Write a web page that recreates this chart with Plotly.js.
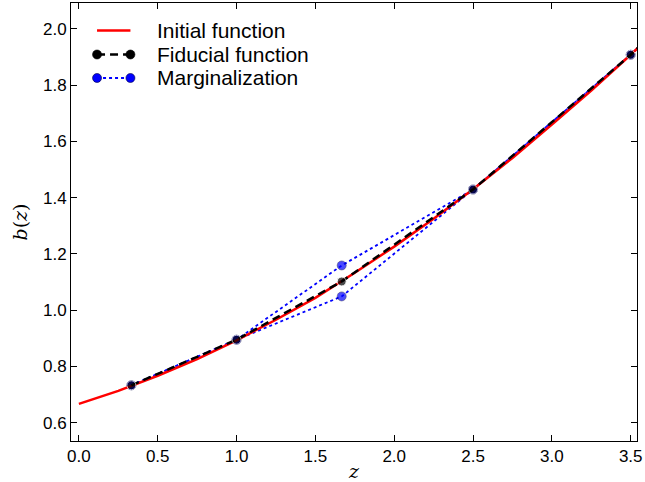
<!DOCTYPE html>
<html>
<head>
<meta charset="utf-8">
<script src="https://cdn.plot.ly/plotly-3.0.1.min.js"></script>
<style>html,body{margin:0;padding:0;background:#fff}#chart{width:645px;height:482px}</style>
</head>
<body>
<div id="chart"></div>
<script>
// Initial function (red curve)
const zInitial = [0, 0.25, 0.5, 0.75, 1.0, 1.25, 1.5, 1.75, 2.0, 2.25, 2.5, 2.75, 3.0, 3.25, 3.5, 3.55];
const bInitial = [0.667, 0.713, 0.767, 0.826, 0.893, 0.966, 1.044, 1.133, 1.226, 1.325, 1.430, 1.541, 1.660, 1.781, 1.908, 1.935];

// Fiducial nodes
const zNodes = [0.333, 1.0, 1.667, 2.5, 3.5, 3.55];
const bFiducial = [0.733, 0.895, 1.102, 1.429, 1.908, 1.935];
const nodeMarkerSize = [9, 9, 9, 9, 9, 0];

// Marginalization: middle node shifted up and down
const bMargUp = [0.733, 0.895, 1.159, 1.429, 1.908, 1.935];
const bMargDown = [0.733, 0.895, 1.049, 1.429, 1.908, 1.935];

const seriesNames = ['Initial function', 'Fiducial function', 'Marginalization'];

const xTickVals = [0, 0.5, 1.0, 1.5, 2.0, 2.5, 3.0, 3.5];
const xTickText = ['0.0', '0.5', '1.0', '1.5', '2.0', '2.5', '3.0', '3.5'];
const yTickVals = [0.6, 0.8, 1.0, 1.2, 1.4, 1.6, 1.8, 2.0];
const yTickText = ['0.6', '0.8', '1.0', '1.2', '1.4', '1.6', '1.8', '2.0'];

const RED = '#ff0000', BLACK = '#000000', BLUE = '#0000ff';
const blueMarker = {color: BLUE, size: nodeMarkerSize, line: {color: '#000040', width: 0.6}};

const traces = [
  {x: zNodes, y: bMargUp, mode: 'lines+markers', name: seriesNames[2], showlegend: false,
   line: {color: BLUE, width: 1.8, dash: 'dot'}, marker: blueMarker},
  {x: zNodes, y: bMargDown, mode: 'lines+markers', name: seriesNames[2], showlegend: false,
   line: {color: BLUE, width: 1.8, dash: 'dot'}, marker: blueMarker},
  {x: zInitial, y: bInitial, mode: 'lines', name: seriesNames[0], showlegend: false,
   line: {color: RED, width: 2.5}},
  {x: zNodes, y: bFiducial, mode: 'lines+markers', name: seriesNames[1], showlegend: false,
   line: {color: BLACK, width: 2.5, dash: '8px,5px'},
   marker: {color: BLACK, size: nodeMarkerSize}}
];

// Legend drawn as decoration (paper coordinates of the plot area)
const legX0 = 0.046, legX1 = 0.105, legTextX = 0.150;
const legY = [0.9372, 0.8824, 0.8288];
const legStyles = [
  {color: RED, width: 2.5, dash: 'solid', marker: false},
  {color: BLACK, width: 2.5, dash: '8px,5px', marker: true, mcolor: BLACK},
  {color: BLUE, width: 1.8, dash: 'dot', marker: true, mcolor: BLUE}
];
const shapes = [];
const annotations = [];
legStyles.forEach((s, i) => {
  shapes.push({type: 'line', xref: 'paper', yref: 'paper', x0: legX0, x1: legX1, y0: legY[i], y1: legY[i],
               line: {color: s.color, width: s.width, dash: s.dash}});
  if (s.marker) {
    [legX0, legX1].forEach(px => {
      shapes.push({type: 'circle', xref: 'paper', yref: 'paper', xsizemode: 'pixel', ysizemode: 'pixel',
                   xanchor: px, yanchor: legY[i], x0: -4.5, x1: 4.5, y0: -4.5, y1: 4.5,
                   fillcolor: s.mcolor, line: {color: s.mcolor === BLUE ? '#000040' : BLACK, width: 0.6}});
    });
  }
  annotations.push({xref: 'paper', yref: 'paper', x: legTextX, y: legY[i], xanchor: 'left', yanchor: 'middle',
                    text: seriesNames[i], showarrow: false, borderpad: 0,
                    font: {family: 'Liberation Sans, Arial, sans-serif', size: 21, color: '#000'}});
});

const axisCommon = {
  showline: true, linecolor: '#000', linewidth: 1, mirror: 'ticks',
  ticks: 'inside', ticklen: 6, tickwidth: 1, tickcolor: '#000',
  showgrid: false, zeroline: false,
  tickfont: {family: 'Liberation Sans, Arial, sans-serif', size: 17, color: '#000'}
};

const layout = {
  width: 645, height: 482,
  margin: {l: 71, r: 8, t: 3, b: 41},
  paper_bgcolor: '#fff', plot_bgcolor: '#fff',
  showlegend: false,
  shapes: shapes,
  annotations: annotations,
  xaxis: Object.assign({}, axisCommon, {
    range: [-0.05, 3.54], tickmode: 'array', tickvals: xTickVals, ticktext: xTickText,
    title: {text: '<i>z</i>', font: {family: 'DejaVu Serif, serif', size: 19, color: '#000'}, standoff: 6}
  }),
  yaxis: Object.assign({}, axisCommon, {
    range: [0.535, 2.092], tickmode: 'array', tickvals: yTickVals, ticktext: yTickText,
    title: {text: '<i>b</i>(<i>z</i>)', font: {family: 'DejaVu Serif, serif', size: 19, color: '#000'}, standoff: 10}
  })
};

Plotly.newPlot('chart', traces, layout, {displayModeBar: false, staticPlot: true});
</script>
</body>
</html>
